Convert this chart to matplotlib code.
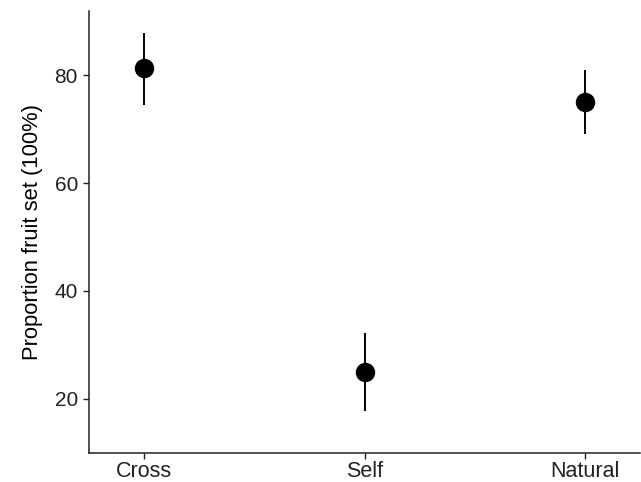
import matplotlib.pyplot as plt

treatments = ['Cross', 'Self', 'Natural']
means = [81.3, 25.0, 75.1]
upper = [87.9, 32.2, 80.9]
lower = [74.5, 17.7, 69.1]

plt.rcParams['font.family'] = ['Liberation Sans', 'DejaVu Sans']

fig = plt.figure(figsize=(6.41, 4.82), dpi=100)
ax = fig.add_axes([89 / 641, 1 - 452.7 / 482, 551 / 641, (452.7 - 11) / 482])

x = list(range(1, len(treatments) + 1))
for xi, lo, hi in zip(x, lower, upper):
    ax.plot([xi, xi], [lo, hi], color='black', lw=1.4, solid_capstyle='butt')
ax.plot(x, means, 'o', color='black', markersize=13)

ax.set_xlim(0.75, 3.25)
ax.set_ylim(10.0, 91.9)
ax.set_xticks(x)
ax.set_xticklabels(treatments)
ax.set_yticks([20, 40, 60, 80])
ax.set_ylabel('Proportion fruit set (100%)', fontsize=15.8, color='black', labelpad=8)

for s in ['top', 'right']:
    ax.spines[s].set_visible(False)
for s in ['left', 'bottom']:
    ax.spines[s].set_linewidth(1.1)
    ax.spines[s].set_color('#222222')
ax.tick_params(axis='y', labelsize=15, length=4, width=1, color='#222222', labelcolor='#222222', pad=4)
ax.tick_params(axis='x', labelsize=15.5, length=4, width=1, color='#222222', labelcolor='#222222', pad=2)

fig.savefig('out.png', dpi=100)
